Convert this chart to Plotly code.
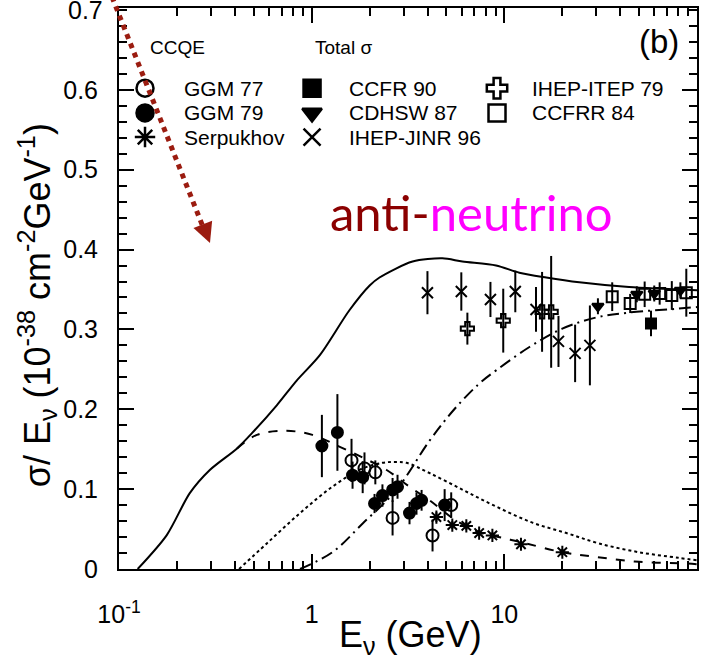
import plotly.graph_objects as go

# ---------------- data ----------------
# theory curves (E in GeV, sigma/E in 1e-38 cm^2/GeV)
total_E = [0.125, 0.177, 0.233, 0.296, 0.41, 0.494, 0.659, 0.836, 1.1, 1.57, 2.0, 2.25, 3.34, 4.77, 6.06, 9.06, 11.96, 16.5, 24.5, 44.4, 100]
total_y = [0.0, 0.0425, 0.095, 0.124, 0.151, 0.171, 0.205, 0.236, 0.2675, 0.324, 0.355, 0.365, 0.385, 0.389, 0.385, 0.38, 0.371, 0.365, 0.359, 0.353, 0.349]

ccqe_E = [0.41, 0.52, 0.74, 1.01, 1.40, 1.9, 2.45, 3.22, 4.09, 5.6, 7.4, 9.8, 13, 20, 30, 50, 88, 100]
ccqe_y = [0.151, 0.168, 0.173, 0.168, 0.153, 0.138, 0.124, 0.103, 0.086, 0.061, 0.046, 0.039, 0.032, 0.021, 0.015, 0.009, 0.007, 0.006]

res_E = [0.42, 0.585, 0.87, 1.28, 1.8, 2.33, 2.69, 3.1, 4.1, 6.1, 9.1, 14, 21, 31, 50, 80, 100]
res_y = [0.0, 0.032, 0.07, 0.103, 0.125, 0.133, 0.134, 0.133, 0.12, 0.099, 0.078, 0.058, 0.045, 0.032, 0.021, 0.014, 0.011]

dis_E = [0.87, 1.28, 1.84, 2.75, 4.1, 5.5, 7.4, 9.1, 13.5, 20, 30, 44, 80, 100]
dis_y = [0.0, 0.021, 0.057, 0.099, 0.161, 0.2, 0.232, 0.249, 0.278, 0.301, 0.315, 0.321, 0.326, 0.328]

# CCQE data
ggm77_E = [1.61, 1.88, 2.14, 2.63, 4.24, 5.3]
ggm77_y = [0.136, 0.126, 0.121, 0.064, 0.042, 0.080]
ggm77_err = [0.027, 0.020, 0.015, 0.022, 0.020, 0.016]

ggm79_E = [1.13, 1.36, 1.63, 1.84, 2.12, 2.33, 2.63, 2.79, 3.22, 3.5, 3.72, 4.9]
ggm79_y = [0.154, 0.171, 0.1175, 0.115, 0.082, 0.092, 0.099, 0.103, 0.070, 0.082, 0.086, 0.080]
ggm79_err = [0.039, 0.048, 0.017, 0.020, 0.012, 0.014, 0.015, 0.015, 0.014, 0.014, 0.013, 0.020]

serp_E = [4.44, 5.37, 6.35, 7.4, 8.67, 12.2, 20.0]
serp_y = [0.065, 0.055, 0.054, 0.045, 0.042, 0.031, 0.021]
serp_err = [0.006, 0.005, 0.005, 0.004, 0.004, 0.004, 0.004]

# Total sigma data
ccfr90_E = [57.7]
ccfr90_y = [0.3075]
ccfr90_err = [0.016]

cdhsw87_E = [30.6, 48.7, 60, 82]
cdhsw87_y = [0.329, 0.344, 0.345, 0.349]
cdhsw87_err = [0.010, 0.010, 0.010, 0.010]

jinr96_E = [3.99, 5.98, 8.47, 11.4, 14.6, 19.1, 23.3, 27.8]
jinr96_y = [0.346, 0.3475, 0.3375, 0.3475, 0.325, 0.285, 0.270, 0.280]
jinr96_err = [0.027, 0.024, 0.022, 0.026, 0.028, 0.032, 0.036, 0.050]

itep79_E = [6.43, 9.87, 15.7, 17.5]
itep79_y = [0.301, 0.311, 0.322, 0.322]
itep79_err = [0.020, 0.040, 0.050, 0.070]

ccfrr84_E = [36.3, 45, 53.5, 64, 74, 88]
ccfrr84_y = [0.341, 0.3325, 0.344, 0.345, 0.3425, 0.346]
ccfrr84_err = [0.018, 0.012, 0.016, 0.014, 0.018, 0.030]

x_tickvals = [0.1, 1, 10]
x_ticktext = ["10<sup>-1</sup>", "1", "10"]
x_minor = [0.2, 0.3, 0.4, 0.5, 0.6, 0.7, 0.8, 0.9, 2, 3, 4, 5, 6, 7, 8, 9, 20, 30, 40, 50, 60, 70, 80, 90]
y_tickvals = [0, 0.1, 0.2, 0.3, 0.4, 0.5, 0.6]
y_ticktext = ["0", "0.1", "0.2", "0.3", "0.4", "0.5", "0.6"]
y_top_label = "0.7"
y_top = 0.7

legend_names = ["GGM 77", "GGM 79", "Serpukhov", "CCFR 90", "CDHSW 87", "IHEP-JINR 96", "IHEP-ITEP 79", "CCFRR 84"]

# ---------------- figure ----------------
FONT = "Liberation Sans, Arial, Helvetica, sans-serif"
fig = go.Figure()

lw = 2
fig.add_trace(go.Scatter(x=total_E, y=total_y, mode="lines", line=dict(color="black", width=lw, shape="spline", smoothing=0.8), showlegend=False))
fig.add_trace(go.Scatter(x=ccqe_E, y=ccqe_y, mode="lines", line=dict(color="black", width=lw, dash="dash", shape="spline"), showlegend=False))
fig.add_trace(go.Scatter(x=res_E, y=res_y, mode="lines", line=dict(color="black", width=lw, dash="dot", shape="spline"), showlegend=False))
fig.add_trace(go.Scatter(x=dis_E, y=dis_y, mode="lines", line=dict(color="black", width=lw, dash="12px,5px,2px,5px", shape="spline"), showlegend=False))

def pts(E, y, err, symbol, size=11, lwid=2):
    fig.add_trace(go.Scatter(
        x=E, y=y, mode="markers",
        marker=dict(symbol=symbol, size=size, color="black",
                    line=dict(color="black", width=lwid)),
        error_y=dict(type="data", array=err, color="black", thickness=2, width=0),
        showlegend=False, cliponaxis=False))

pts(cdhsw87_E, cdhsw87_y, cdhsw87_err, "triangle-down", 10)
pts(ggm77_E, ggm77_y, ggm77_err, "circle-open", 12)
pts(ggm79_E, ggm79_y, ggm79_err, "circle", 11)
pts(serp_E, serp_y, serp_err, "asterisk-open", 11)
pts(jinr96_E, jinr96_y, jinr96_err, "x-thin-open", 11)
pts(itep79_E, itep79_y, itep79_err, "cross-open", 11)
pts(ccfrr84_E, ccfrr84_y, ccfrr84_err, "square-open", 11)
pts(ccfr90_E, ccfr90_y, ccfr90_err, "square", 10)

# ---- legend keys on an overlay axis (layout positions) ----
col_x = [0.045, 0.334, 0.654]
row_y = [0.857, 0.813, 0.770]
text_x = [0.109, 0.394, 0.711]
leg_symbols = ["circle-open", "circle", "asterisk-open", "square", "triangle-down", "x-thin-open", "cross-open", "square-open"]
leg_slots = [(0, 0), (0, 1), (0, 2), (1, 0), (1, 1), (1, 2), (2, 0), (2, 1)]
for name, sym, (c, r) in zip(legend_names, leg_symbols, leg_slots):
    fig.add_trace(go.Scatter(
        x=[col_x[c]], y=[row_y[r]], xaxis="x2", yaxis="y2", mode="markers",
        marker=dict(symbol=sym, size=17, color="black", line=dict(color="black", width=2.5)),
        showlegend=False, hoverinfo="skip"))
    fig.add_annotation(x=text_x[c], y=row_y[r], xref="paper", yref="paper",
                       text=name, showarrow=False, xanchor="left", yanchor="middle",
                       font=dict(family=FONT, size=21, color="black"))

fig.add_annotation(x=0.050, y=0.930, xref="paper", yref="paper", text="CCQE", showarrow=False,
                   xanchor="left", yanchor="middle", font=dict(family=FONT, size=19, color="black"))
fig.add_annotation(x=0.336, y=0.930, xref="paper", yref="paper", text="Total σ", showarrow=False,
                   xanchor="left", yanchor="middle", font=dict(family=FONT, size=19, color="black"))
fig.add_annotation(x=0.935, y=0.941, xref="paper", yref="paper", text="(b)", showarrow=False,
                   xanchor="center", yanchor="middle", font=dict(family=FONT, size=33, color="black"))
fig.add_annotation(x=0.609, y=0.636, xref="paper", yref="paper",
                   text="<span style='color:#8B0000'>anti-</span><span style='color:#FF00FF'>neutrino</span>",
                   showarrow=False, xanchor="center", yanchor="middle",
                   font=dict(family="Lato, Open Sans, sans-serif", size=49))

# top y tick label (at the frame edge)
fig.add_annotation(x=0, y=y_top, xref="paper", yref="y", text=y_top_label, showarrow=False,
                   xanchor="right", yanchor="middle", xshift=-14,
                   font=dict(family=FONT, size=25, color="black"))

# axis titles
fig.add_annotation(x=0.505, y=-0.122, xref="paper", yref="paper", text="E<sub>ν</sub> (GeV)",
                   showarrow=False, xanchor="center", yanchor="middle",
                   font=dict(family=FONT, size=36, color="black"))
fig.add_annotation(x=-0.142, y=0.47, xref="paper", yref="paper",
                   text="σ/ E<sub>ν</sub> (10<sup>-38</sup> cm<sup>-2</sup>GeV<sup>-1</sup>)",
                   showarrow=False, xanchor="center", yanchor="middle", textangle=-90,
                   font=dict(family=FONT, size=36, color="black"))

# dotted dark-red arrow
arrow_col = "#9B1C10"
fig.add_shape(type="line", xref="paper", yref="paper", x0=-0.0121, y0=1.0196, x1=0.1488, y1=0.6007,
              line=dict(color=arrow_col, width=5, dash="dot"))
fig.add_annotation(x=0.1574, y=0.5811, xref="paper", yref="paper", text="", showarrow=True,
                   ax=-5, ay=-13, arrowhead=2, arrowsize=1, arrowwidth=4, arrowcolor=arrow_col)

fig.update_layout(
    width=704, height=663,
    margin=dict(l=119, r=7, t=8, b=94, autoexpand=False),
    paper_bgcolor="white", plot_bgcolor="white",
    font=dict(family=FONT, color="black"),
    showlegend=False,
    xaxis=dict(
        type="log", range=[-1, 2], showgrid=False, zeroline=False, automargin=False,
        showline=True, linecolor="black", linewidth=2, mirror="allticks",
        ticks="inside", ticklen=15, tickwidth=1.5, tickcolor="black",
        tickmode="array", tickvals=x_tickvals, ticktext=x_ticktext,
        tickfont=dict(family=FONT, size=25, color="black"), ticklabelstandoff=22,
        minor=dict(tickmode="array", tickvals=x_minor, ticks="inside", ticklen=8, tickwidth=1.5, tickcolor="black", showgrid=False),
    ),
    yaxis=dict(
        range=[0, 0.7025], showgrid=False, zeroline=False, automargin=False,
        showline=True, linecolor="black", linewidth=2, mirror="allticks",
        ticks="inside", ticklen=15, tickwidth=1.5, tickcolor="black",
        tickmode="array", tickvals=y_tickvals, ticktext=y_ticktext,
        tickfont=dict(family=FONT, size=25, color="black"), ticklabelstandoff=14,
        minor=dict(tickmode="linear", tick0=0, dtick=0.02, ticks="inside", ticklen=8, tickwidth=1.5, tickcolor="black", showgrid=False),
    ),
    xaxis2=dict(overlaying="x", range=[0, 1], visible=False, fixedrange=True),
    yaxis2=dict(overlaying="y", range=[0, 1], visible=False, fixedrange=True),
)

fig.write_html("out.html", config={"displayModeBar": False},
               post_script="document.body.style.margin='0';document.body.style.overflow='hidden';")
